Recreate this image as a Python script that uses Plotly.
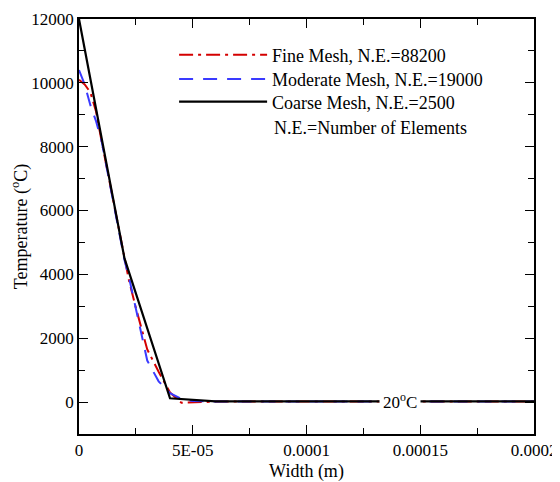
import plotly.graph_objects as go

# Fine mesh (N.E.=88200)
fine_x = [0, 2.5e-6, 5e-6, 7.5e-6, 1e-5, 1.5e-5, 2e-5, 2.2e-5, 2.5e-5, 3e-5, 3.5e-5,
          4e-5, 4.5e-5, 5e-5, 6e-5, 8e-5, 1e-4, 1.2e-4, 1.4e-4, 1.6e-4, 1.8e-4, 2e-4]
fine_t = [10100, 9950, 9700, 9100, 8150, 6300, 4450, 3800, 2950, 1650, 950,
          300, -20, -10, 15, 20, 20, 20, 20, 20, 20, 20]

# Moderate mesh (N.E.=19000)
mod_x = [0, 2.5e-6, 5e-6, 7.5e-6, 1e-5, 1.5e-5, 2e-5, 2.2e-5, 2.5e-5, 3e-5, 3.5e-5,
         4e-5, 4.5e-5, 5e-5, 6e-5, 8e-5, 1e-4, 1.2e-4, 1.4e-4, 1.6e-4, 1.8e-4, 2e-4]
mod_t = [10400, 9950, 9300, 8800, 8150, 6300, 4450, 3900, 2900, 1300, 650,
         280, 100, 30, 20, 20, 20, 20, 20, 20, 20, 20]

# Coarse mesh (N.E.=2500)
coarse_x = [0, 2e-5, 4e-5, 6e-5, 8e-5, 1e-4, 1.2e-4, 1.4e-4, 1.6e-4, 1.8e-4, 2e-4]
coarse_t = [12000, 4500, 120, 20, 20, 20, 20, 20, 20, 20, 20]

series_names = ["Fine Mesh, N.E.=88200", "Moderate Mesh, N.E.=19000", "Coarse Mesh, N.E.=2500"]

x_tickvals = [0, 5e-5, 1e-4, 1.5e-4, 2e-4]
x_ticktext = ["0", "5E-05", "0.0001", "0.00015", "0.0002"]
y_tickvals = [0, 2000, 4000, 6000, 8000, 10000, 12000]
y_ticktext = ["0", "2000", "4000", "6000", "8000", "10000", "12000"]

FONT = "Liberation Serif"

fig = go.Figure()
fig.add_trace(go.Scatter(x=fine_x, y=fine_t, mode="lines", name=series_names[0], legend="legend",
                         line=dict(color="#d40000", width=2, dash="14px,5px,3px,5px")))
fig.add_trace(go.Scatter(x=mod_x, y=mod_t, mode="lines", name=series_names[1], legend="legend2",
                         line=dict(color="#3a3aff", width=2, dash="14px,10px")))
fig.add_trace(go.Scatter(x=coarse_x, y=coarse_t, mode="lines", name=series_names[2], legend="legend3",
                         line=dict(color="black", width=2.2)))

fig.add_annotation(x=1.411e-4, y=20, xref="x", yref="y", text="20<sup>o</sup>C",
                   showarrow=False, bgcolor="white", borderpad=3,
                   font=dict(family=FONT, size=17, color="black"))
fig.add_annotation(x=0.425, y=0.737, xref="paper", yref="paper",
                   xanchor="left", yanchor="middle",
                   text="N.E.=Number of Elements", showarrow=False,
                   font=dict(family=FONT, size=18, color="black"))

axis_common = dict(showline=True, linecolor="black", linewidth=1.5, mirror="allticks",
                   ticks="inside", ticklen=9, tickwidth=1.2, tickcolor="black",
                   showgrid=False, zeroline=False, automargin=False,
                   tickfont=dict(family=FONT, size=17, color="black"))

fig.update_xaxes(range=[0, 2e-4], tickmode="array", tickvals=x_tickvals, ticktext=x_ticktext,
                 minor=dict(ticks="inside", ticklen=6, dtick=2.5e-5, tick0=0,
                            tickcolor="black", tickwidth=1.2, showgrid=False),
                 title=dict(text="Width (m)", font=dict(family=FONT, size=18, color="black"),
                            standoff=6),
                 **axis_common)
fig.update_yaxes(range=[-1000, 12000], tickmode="array", tickvals=y_tickvals, ticktext=y_ticktext,
                 minor=dict(ticks="inside", ticklen=6, dtick=1000, tick0=0,
                            tickcolor="black", tickwidth=1.2, showgrid=False),
                 title=dict(text="Temperature (<sup>o</sup>C)",
                            font=dict(family=FONT, size=18, color="black"), standoff=0),
                 **axis_common)

leg_common = dict(x=0.209, xanchor="left", yanchor="middle",
                  bgcolor="rgba(0,0,0,0)", borderwidth=0, itemwidth=88,
                  font=dict(family=FONT, size=18, color="black"))

# The page body has an 8px margin, so the figure is sized to end at the window edges.
fig.update_layout(
    width=552, height=474,
    margin=dict(l=71, r=26, t=11, b=48, autoexpand=False),
    paper_bgcolor="white", plot_bgcolor="white",
    font=dict(family=FONT, size=17, color="black"),
    showlegend=True,
    legend=dict(y=0.913, **leg_common),
    legend2=dict(y=0.855, **leg_common),
    legend3=dict(y=0.800, **leg_common),
)

fig.write_html("out.html")
